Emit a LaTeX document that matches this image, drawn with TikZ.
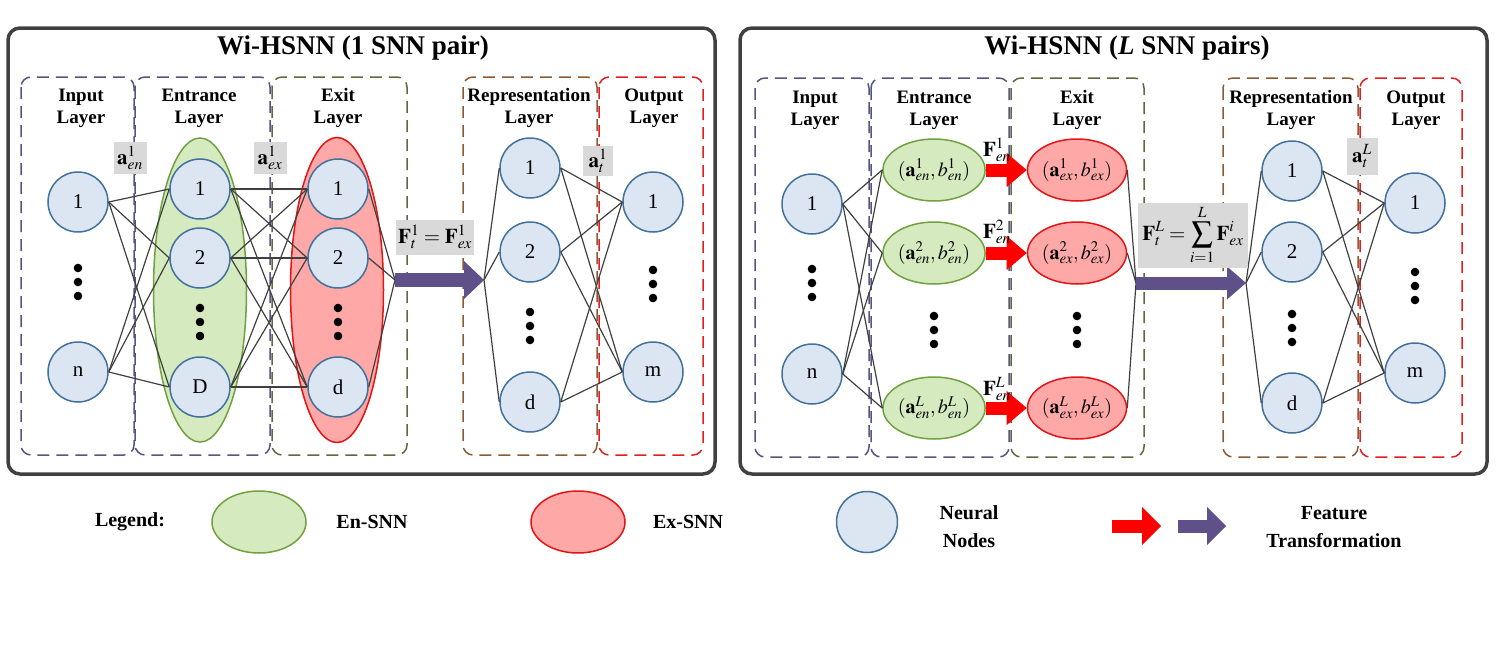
\documentclass[tikz,border=0pt]{standalone}
\usepackage{amsmath}
\usepackage{mathptmx}
\usepackage[no-math]{fontspec}
\setmainfont{Liberation Serif}
\usetikzlibrary{shapes.geometric, arrows.meta}
\definecolor{nodeedge}{RGB}{65,113,156}
\definecolor{nodefill}{RGB}{220,230,242}
\definecolor{engreen}{RGB}{112,160,64}
\definecolor{enfill}{RGB}{214,234,192}
\definecolor{exred}{RGB}{228,20,20}
\definecolor{exfill}{RGB}{255,168,168}
\definecolor{fpurple}{RGB}{95,80,138}
\definecolor{labgray}{RGB}{217,217,217}
\definecolor{framegray}{RGB}{64,64,64}
\definecolor{inblue}{RGB}{85,85,130}
\definecolor{exolive}{RGB}{95,105,65}
\definecolor{repbrown}{RGB}{140,90,50}
\definecolor{outred}{RGB}{225,30,30}
\tikzset{neuron/.style={circle,draw=nodeedge,fill=nodefill,line width=1.5pt,minimum size=60pt,inner sep=0pt,font=\fontsize{21}{22}\selectfont},
         ennode/.style={ellipse,draw=engreen,fill=enfill,line width=1.5pt,minimum width=94pt,minimum height=62pt,inner sep=0pt,font=\fontsize{20}{22}\selectfont},
         exnode/.style={ellipse,draw=exred,fill=exfill,line width=1.5pt,minimum width=94pt,minimum height=62pt,inner sep=0pt,font=\fontsize{20}{22}\selectfont},
         layerbox/.style={dash pattern=on 12pt off 7pt,line width=1.5pt,rounded corners=10pt},
         panel/.style={draw=framegray,line width=3.5pt,rounded corners=12pt},
         wire/.style={draw=black!75,line width=1.2pt},
         tagbox/.style={fill=labgray,inner sep=1pt,font=\fontsize{21}{22}\selectfont},
         layertitle/.style={align=center,font=\fontsize{19}{22}\selectfont\bfseries},
         plaintext/.style={align=center,font=\fontsize{20}{28}\selectfont\bfseries},
         bigarrow/.style={draw=fpurple,line width=14pt,-{Triangle[length=20pt,width=38pt,line width=0pt]}},
         redarrow/.style={draw=red,line width=13pt,-{Triangle[length=20pt,width=34pt,line width=0pt]}}}
\begin{document}
\begin{tikzpicture}[x=1pt,y=-1pt]
        \useasboundingbox (0,0) rectangle (1500,648);

        \draw[panel](8,28) rectangle (715,474);
        \node[font=\fontsize{27}{30}\selectfont\bfseries](t1)at(353,48){Wi-HSNN (1 SNN pair)};
        \draw[layerbox,draw=inblue](21,77) rectangle (134,455);
        \draw[layerbox,draw=inblue](135,77) rectangle (270,455);
        \draw[layerbox,draw=exolive](272,77) rectangle (407,455);
        \draw[layerbox,draw=repbrown](463,77) rectangle (597,455);
        \draw[layerbox,draw=outred](599,77) rectangle (703,455);
        \node[layertitle](li1)at(81,108){Input\\Layer};
        \node[layertitle](le1)at(199,108){Entrance\\Layer};
        \node[layertitle](lx1)at(338,108){Exit\\Layer};
        \node[layertitle](lr1)at(529,108){Representation\\Layer};
        \node[layertitle](lo1)at(654,108){Output\\Layer};

        \node[ellipse,draw=engreen,fill=enfill,line width=1.5pt,minimum width=93pt,minimum height=304pt](enall)at(200,290){};
        \node[ellipse,draw=exred,fill=exfill,line width=1.5pt,minimum width=93pt,minimum height=305pt](exall)at(337,290){};

        \node[neuron](ia)at(78,202){1};
        \node[neuron](ib)at(78,372){n};
        \node[neuron](e1)at(200,189){1};
        \node[neuron](e2)at(200,258){2};
        \node[neuron](eD)at(200,387){D};
        \node[neuron](x1)at(338,189){1};
        \node[neuron](x2)at(338,258){2};
        \node[neuron](xd)at(338,387){d};
        \node[neuron](r1)at(530,168){1};
        \node[neuron](r2)at(530,252){2};
        \node[neuron](rd)at(530,402){d};
        \node[neuron](o1)at(653,202){1};
        \node[neuron](om)at(653,372){m};
        \foreach \x/\y in {78/268,200/308,338/308,530/312,653/270}
            \foreach \k in {0,14,28} \fill (\x,\y+\k) circle (4.3);

        \coordinate(fa)at(395,280);
        \coordinate(fb)at(484,280);
        \foreach \i in {ia,ib} \foreach \j in {e1,e2,eD} \draw[wire](\i.east)--(\j.west);
        \foreach \i in {e1,e2,eD} \foreach \j in {x1,x2,xd} \draw[wire](\i.east)--(\j.west);
        \foreach \i in {x1,x2,xd} \draw[wire](\i.east)--(fa);
        \foreach \j in {r1,r2,rd} \draw[wire](fb)--(\j.west);
        \foreach \i in {r1,r2,rd} \foreach \j in {o1,om} \draw[wire](\i.east)--(\j.west);
        \draw[bigarrow](fa)--(fb);

        \node[tagbox,minimum width=33pt,minimum height=32pt](aen)at(130,158){$\mathbf{a}^{1}_{en}$};
        \node[tagbox,minimum width=33pt,minimum height=32pt](aex)at(270,158){$\mathbf{a}^{1}_{ex}$};
        \node[tagbox,minimum width=30pt,minimum height=30pt](at1)at(598,161){$\mathbf{a}^{1}_{t}$};
        \node[tagbox,minimum width=78pt,minimum height=35pt](ft1)at(435,237){$\mathbf{F}^{1}_{t}=\mathbf{F}^{1}_{ex}$};

        \draw[panel](740,28) rectangle (1487,474);
        \node[font=\fontsize{27}{30}\selectfont\bfseries](t2)at(1127,48){Wi-HSNN (\textit{L} SNN pairs)};
        \draw[layerbox,draw=inblue](755,78) rectangle (869,457);
        \draw[layerbox,draw=inblue](871,78) rectangle (1009,457);
        \draw[layerbox,draw=exolive](1011,78) rectangle (1144,457);
        \draw[layerbox,draw=repbrown](1223,78) rectangle (1358,457);
        \draw[layerbox,draw=outred](1360,78) rectangle (1462,457);
        \node[layertitle](li2)at(815,110){Input\\Layer};
        \node[layertitle](le2)at(934,110){Entrance\\Layer};
        \node[layertitle](lx2)at(1077,110){Exit\\Layer};
        \node[layertitle](lr2)at(1291,110){Representation\\Layer};
        \node[layertitle](lo2)at(1416,110){Output\\Layer};

        \node[neuron](ja)at(812,204){1};
        \node[neuron](jb)at(812,374){n};
        \node[ennode](p1)at(934,170){$(\mathbf{a}^{1}_{en},b^{1}_{en})$};
        \node[ennode](p2)at(934,253){$(\mathbf{a}^{2}_{en},b^{2}_{en})$};
        \node[ennode](pL)at(934,408){$(\mathbf{a}^{L}_{en},b^{L}_{en})$};
        \node[exnode](q1)at(1077,170){$(\mathbf{a}^{1}_{ex},b^{1}_{ex})$};
        \node[exnode](q2)at(1077,253){$(\mathbf{a}^{2}_{ex},b^{2}_{ex})$};
        \node[exnode](qL)at(1077,408){$(\mathbf{a}^{L}_{ex},b^{L}_{ex})$};
        \node[neuron](s1)at(1292,171){1};
        \node[neuron](s2)at(1292,252){2};
        \node[neuron](sd)at(1292,403){d};
        \node[neuron](u1)at(1415,203){1};
        \node[neuron](um)at(1415,373){m};
        \foreach \x/\y in {812/269,934/316,1077/316,1292/314,1415/272}
            \foreach \k in {0,14,28} \fill (\x,\y+\k) circle (4.3);

        \coordinate(ga)at(1136,283);
        \coordinate(gb)at(1246,283);
        \foreach \i in {ja,jb} \foreach \j in {p1,p2,pL} \draw[wire](\i.east)--(\j.west);
        \foreach \i in {q1,q2,qL} \draw[wire](\i.east)--(ga);
        \foreach \j in {s1,s2,sd} \draw[wire](gb)--(\j.west);
        \foreach \i in {s1,s2,sd} \foreach \j in {u1,um} \draw[wire](\i.east)--(\j.west);
        \draw[bigarrow,line width=13pt,-{Triangle[length=19pt,width=33pt,line width=0pt]}](ga)--(gb);
        \foreach \k in {1,2,L} \draw[redarrow](p\k.east)--(q\k.west);

        \node[font=\fontsize{21}{22}\selectfont](fe1)at(997,150){$\mathbf{F}^{1}_{en}$};
        \node[font=\fontsize{21}{22}\selectfont](fe2)at(997,232){$\mathbf{F}^{2}_{en}$};
        \node[font=\fontsize{21}{22}\selectfont](feL)at(997,389){$\mathbf{F}^{L}_{en}$};
        \node[tagbox,minimum width=31pt,minimum height=37pt](atL)at(1362,156){$\mathbf{a}^{L}_{t}$};
        \node[tagbox,minimum width=110pt,minimum height=65pt](ftL)at(1193,235){$\displaystyle\mathbf{F}^{L}_{t}=\sum_{i=1}^{L}\mathbf{F}^{i}_{ex}$};

        \node[plaintext](lg)at(130,522){Legend:};
        \node[ennode](lgen)at(259,522){};
        \node[plaintext](lgent)at(372,522){En-SNN};
        \node[exnode](lgex)at(578,522){};
        \node[plaintext](lgext)at(688,522){Ex-SNN};
        \node[neuron,minimum size=61pt](lgnn)at(867,522){};
        \node[plaintext](lgnnt)at(969,527){Neural\\Nodes};
        \coordinate(ra)at(1112,526);
        \coordinate(rb)at(1161,526);
        \coordinate(pa)at(1178,526);
        \coordinate(pb)at(1226,526);
        \draw[redarrow,line width=13pt,-{Triangle[length=19pt,width=38pt,line width=0pt]}](ra)--(rb);
        \draw[bigarrow,line width=13pt,-{Triangle[length=19pt,width=38pt,line width=0pt]}](pa)--(pb);
        \node[plaintext](lgft)at(1334,527){Feature\\Transformation};
    \end{tikzpicture}
\end{document}
